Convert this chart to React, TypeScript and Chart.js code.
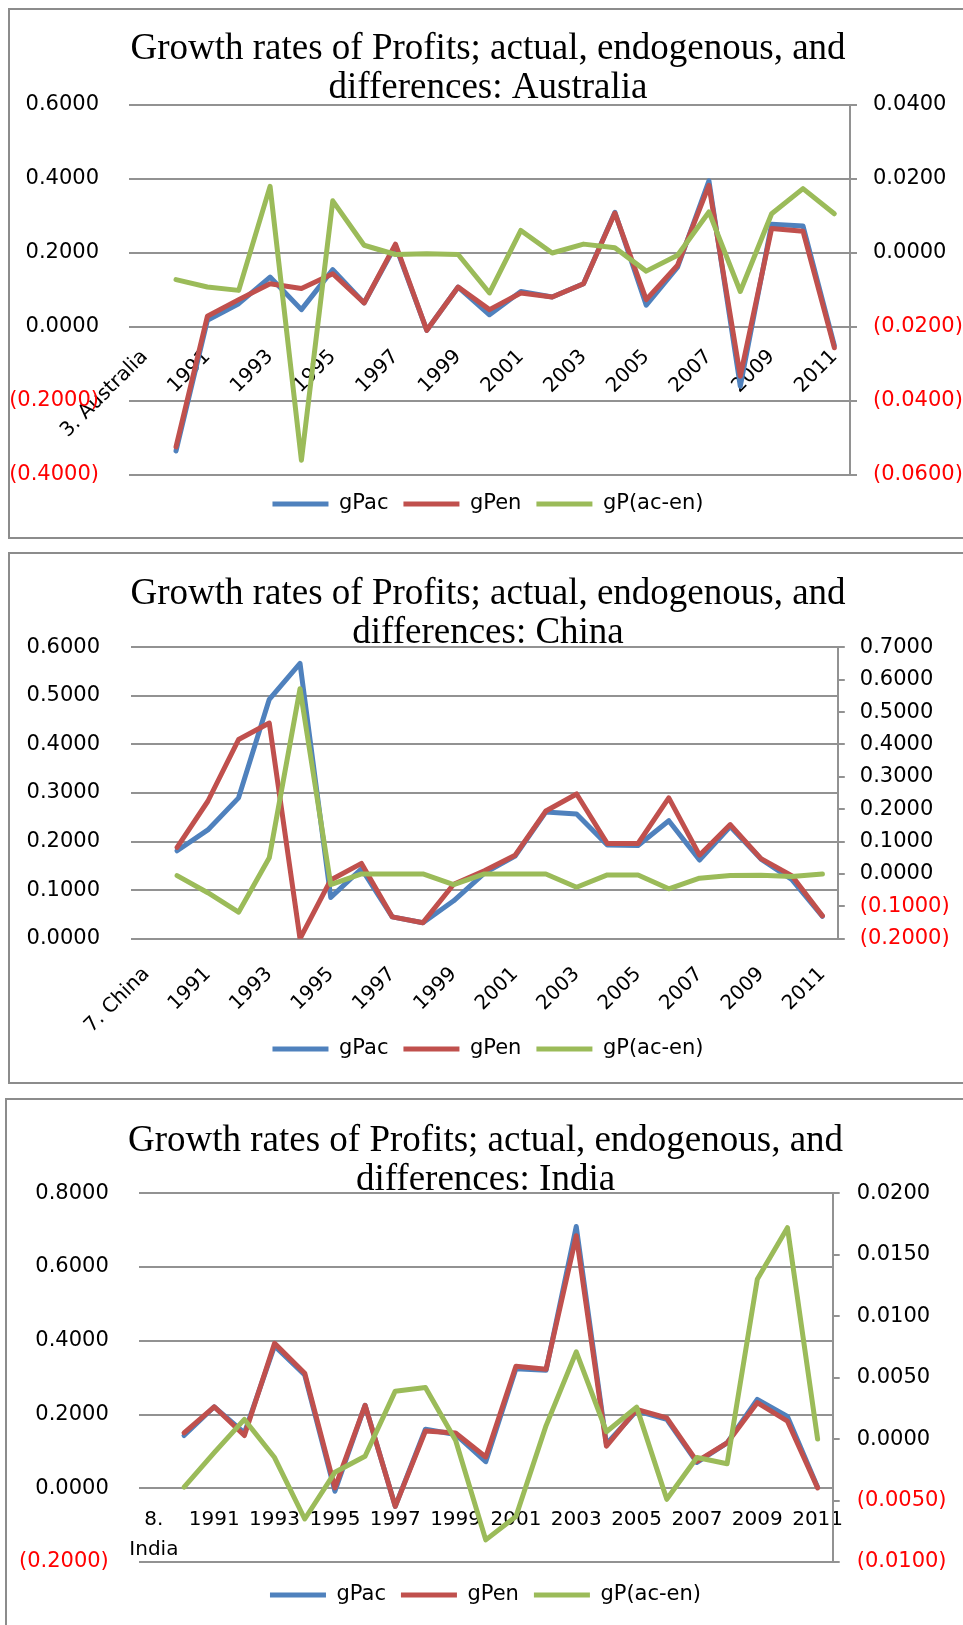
import React, { useEffect, useRef } from "react";
import { Chart, registerables } from "chart.js";

Chart.register(...registerables);

// ---------- data ----------
const years = [
  "1990", "1991", "1992", "1993", "1994", "1995", "1996", "1997", "1998", "1999", "2000",
  "2001", "2002", "2003", "2004", "2005", "2006", "2007", "2008", "2009", "2010", "2011",
];
const seriesNames = ["gPac", "gPen", "gP(ac-en)"];

// Australia
const ausCategory = "3. Australia";
const ausTitle = ["Growth rates of Profits; actual, endogenous, and", "differences: Australia"];
const ausGPac = [-0.335, 0.018, 0.063, 0.135, 0.047, 0.155, 0.065, 0.220, -0.009, 0.108, 0.033,
  0.096, 0.081, 0.117, 0.310, 0.059, 0.162, 0.395, -0.160, 0.278, 0.273, -0.050];
const ausGPen = [-0.324, 0.029, 0.074, 0.117, 0.104, 0.144, 0.065, 0.224, -0.009, 0.108, 0.047,
  0.092, 0.081, 0.117, 0.308, 0.074, 0.167, 0.383, -0.133, 0.266, 0.259, -0.056];
const ausGPdiff = [-0.0072, -0.0092, -0.0101, 0.0180, -0.0560, 0.0141, 0.0021, -0.0004, -0.0002, -0.0004, -0.0108,
  0.0061, 0.0000, 0.0024, 0.0014, -0.0049, -0.0006, 0.0111, -0.0104, 0.0106, 0.0174, 0.0106];
const ausLeftTicks = [-0.4, -0.2, 0, 0.2, 0.4, 0.6];
const ausRightTicks = [-0.06, -0.04, -0.02, 0, 0.02, 0.04];

// China
const chnCategory = "7. China";
const chnTitle = ["Growth rates of Profits; actual, endogenous, and", "differences: China"];
const chnGPac = [0.181, 0.224, 0.290, 0.493, 0.567, 0.085, 0.144, 0.045, 0.033, 0.078, 0.135,
  0.170, 0.261, 0.257, 0.193, 0.192, 0.243, 0.162, 0.231, 0.164, 0.122, 0.046];
const chnGPen = [0.188, 0.283, 0.410, 0.444, 0.000, 0.121, 0.155, 0.045, 0.033, 0.112, 0.140,
  0.172, 0.263, 0.298, 0.196, 0.196, 0.290, 0.172, 0.235, 0.165, 0.130, 0.047];
const chnGPdiff = [-0.005, -0.058, -0.118, 0.050, 0.572, -0.033, 0.000, 0.000, 0.000, -0.033, 0.000,
  0.000, 0.000, -0.041, -0.003, -0.003, -0.046, -0.013, -0.005, -0.004, -0.008, 0.000];
const chnLeftTicks = [0, 0.1, 0.2, 0.3, 0.4, 0.5, 0.6];
const chnRightTicks = [-0.2, -0.1, 0, 0.1, 0.2, 0.3, 0.4, 0.5, 0.6, 0.7];

// India
const indCategory = ["8.", "India"];
const indTitle = ["Growth rates of Profits; actual, endogenous, and", "differences: India"];
const indGPac = [0.143, 0.221, 0.150, 0.386, 0.307, -0.008, 0.225, -0.049, 0.160, 0.146, 0.072,
  0.324, 0.320, 0.710, 0.120, 0.210, 0.187, 0.070, 0.123, 0.241, 0.195, 0.003];
const indGPen = [0.150, 0.221, 0.143, 0.393, 0.312, 0.001, 0.225, -0.049, 0.155, 0.150, 0.085,
  0.331, 0.323, 0.685, 0.114, 0.214, 0.191, 0.073, 0.123, 0.232, 0.182, 0.001];
const indGPdiff = [-0.0039, -0.0011, 0.0016, -0.0015, -0.0065, -0.0027, -0.0014, 0.0039, 0.0042, -0.0001, -0.0082,
  -0.0063, 0.0011, 0.0071, 0.0006, 0.0026, -0.0049, -0.0015, -0.0020, 0.0130, 0.0172, 0.0000];
const indLeftTicks = [-0.2, 0, 0.2, 0.4, 0.6, 0.8];
const indRightTicks = [-0.01, -0.005, 0, 0.005, 0.01, 0.015, 0.02];

// ---------- styles / layout ----------
const COLORS = ["#4F81BD", "#C0504D", "#9BBB59"];
const GRID = "#929292";
const FONT_SANS = "'DejaVu Sans', sans-serif";
const FONT_SERIF = "'Liberation Serif', serif";

type Layout = {
  x: number; y: number; w: number; h: number;
  leftW: number; rightW: number; leftPad: number; rightPad: number;
  titleTop: number; titleBottom: number; padBottom: number;
  gap: number; xPad: number; rot: number;
};

type Panel = {
  category: string | string[];
  title: string[];
  ac: number[]; en: number[]; diff: number[];
  left: number[]; right: number[];
  L: Layout;
};

const panels: Panel[] = [
  {
    category: ausCategory, title: ausTitle, ac: ausGPac, en: ausGPen, diff: ausGPdiff,
    left: ausLeftTicks, right: ausRightTicks,
    L: { x: 9, y: 10, w: 958, h: 529, leftW: 120, rightW: 117, leftPad: 30, rightPad: 16,
      titleTop: 20, titleBottom: -3, padBottom: 14.5, gap: 3.5, xPad: 16, rot: 45 },
  },
  {
    category: chnCategory, title: chnTitle, ac: chnGPac, en: chnGPen, diff: chnGPdiff,
    left: chnLeftTicks, right: chnRightTicks,
    L: { x: 9, y: 554, w: 958, h: 530, leftW: 122, rightW: 129.2, leftPad: 31, rightPad: 15,
      titleTop: 21, titleBottom: -5.7, padBottom: 14.5, gap: 84.8, xPad: 21.7, rot: 45 },
  },
  {
    category: indCategory, title: indTitle, ac: indGPac, en: indGPen, diff: indGPdiff,
    left: indLeftTicks, right: indRightTicks,
    L: { x: 6, y: 1101, w: 959, h: 530, leftW: 132.8, rightW: 132.3, leftPad: 30, rightPad: 17,
      titleTop: 20.3, titleBottom: -6, padBottom: 15.5, gap: 7.5, xPad: 16.4, rot: 0 },
  },
];

const fmt = (v: number) => {
  const a = Math.abs(v) < 1e-9 ? 0 : v;
  return a < 0 ? `(${(-a).toFixed(4)})` : a.toFixed(4);
};
const tickColor = (ctx: any) => (ctx.tick && ctx.tick.value < -1e-9 ? "#FF0000" : "#000000");

function buildConfig(p: Panel): any {
  const L = p.L;
  const labels: any[] = [p.category, ...years];
  const series = [p.ac, p.en, p.diff];
  const datasets = series.map((vals, i) => ({
    label: seriesNames[i],
    data: [null, ...vals],
    borderColor: COLORS[i],
    backgroundColor: COLORS[i],
    borderWidth: 5,
    pointRadius: 0,
    pointHoverRadius: 0,
    tension: 0,
    fill: false,
    borderCapStyle: "round",
    borderJoinStyle: "round",
    yAxisID: i === 2 ? "y1" : "y",
    order: 3 - i,
  }));
  const yTickFont = { family: FONT_SANS, size: 21 };
  return {
    type: "line",
    data: { labels, datasets },
    options: {
      responsive: false,
      animation: false,
      events: [],
      layout: { padding: { left: 0, right: 0, top: 0, bottom: L.padBottom } },
      plugins: {
        title: {
          display: true,
          text: p.title,
          color: "#000000",
          font: { family: FONT_SERIF, size: 37, weight: "normal", lineHeight: 39 / 37 },
          padding: { top: L.titleTop, bottom: L.titleBottom },
        },
        legend: {
          display: true,
          position: "bottom",
          // empty legend title only used as a spacer between the plot and the legend row
          title: { display: true, text: "", padding: { top: L.gap, bottom: 0 }, font: { size: 1, lineHeight: 0 } },
          labels: {
            usePointStyle: true,
            pointStyle: "line",
            pointStyleWidth: 56,
            color: "#000000",
            font: { family: FONT_SANS, size: 21 },
            padding: 15,
            sort: (a: any, b: any) => a.datasetIndex - b.datasetIndex,
          },
        },
        tooltip: { enabled: false },
      },
      scales: {
        x: {
          type: "category",
          offset: true,
          position: { y: 0 },
          grid: { display: false, drawTicks: false },
          border: { display: false },
          ticks: {
            autoSkip: false,
            minRotation: L.rot,
            maxRotation: L.rot,
            padding: L.xPad,
            color: "#000000",
            font: { family: FONT_SANS, size: 20, lineHeight: 1.5 },
            callback: function (this: any, val: any, idx: number) {
              return idx % 2 === 0 ? this.getLabelForValue(val) : "";
            },
          },
        },
        y: {
          type: "linear",
          position: "left",
          min: p.left[0],
          max: p.left[p.left.length - 1],
          ticks: {
            stepSize: p.left[1] - p.left[0],
            padding: L.leftPad,
            color: tickColor,
            font: yTickFont,
            callback: (v: any) => fmt(Number(v)),
          },
          grid: { color: GRID, lineWidth: 2, drawTicks: false },
          border: { display: false },
          afterFit: (s: any) => { s.width = L.leftW; },
        },
        y1: {
          type: "linear",
          position: "right",
          min: p.right[0],
          max: p.right[p.right.length - 1],
          ticks: {
            stepSize: p.right[1] - p.right[0],
            padding: L.rightPad,
            color: tickColor,
            font: yTickFont,
            callback: (v: any) => fmt(Number(v)),
          },
          grid: { drawOnChartArea: false, drawTicks: true, tickLength: 7, color: GRID, lineWidth: 2 },
          border: { display: true, color: GRID, width: 2 },
          afterFit: (s: any) => { s.width = L.rightW; },
        },
      },
    },
  };
}

function ChartPanel({ p }: { p: Panel }) {
  const ref = useRef<HTMLCanvasElement>(null);
  useEffect(() => {
    const chart = new Chart(ref.current as HTMLCanvasElement, buildConfig(p));
    return () => chart.destroy();
  }, [p]);
  const L = p.L;
  return (
    <canvas
      ref={ref}
      width={L.w}
      height={L.h}
      style={{ position: "absolute", left: L.x, top: L.y, width: L.w, height: L.h }}
    />
  );
}

const boxes = [
  { left: 8, top: 8, width: 990, height: 531 },
  { left: 8, top: 552, width: 990, height: 532 },
  { left: 5, top: 1098, width: 990, height: 600 },
];

export default function App() {
  return (
    <div
      style={{
        position: "absolute", left: 0, top: 0, width: 963, height: 1625,
        overflow: "hidden", background: "#ffffff",
      }}
    >
      {panels.map((p, i) => (
        <ChartPanel key={i} p={p} />
      ))}
      {boxes.map((b, i) => (
        <div
          key={"b" + i}
          style={{
            position: "absolute", left: b.left, top: b.top, width: b.width, height: b.height,
            border: "2px solid #8c8c8c", boxSizing: "border-box", pointerEvents: "none",
          }}
        />
      ))}
    </div>
  );
}
